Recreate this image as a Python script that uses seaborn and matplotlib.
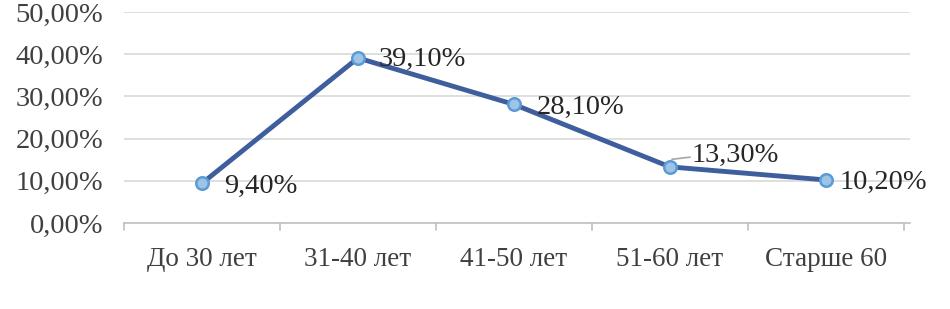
import matplotlib
matplotlib.use("Agg")
import matplotlib.pyplot as plt
import seaborn as sns
import pandas as pd

categories = ["До 30 лет", "31-40 лет", "41-50 лет", "51-60 лет", "Старше 60"]
values = [9.4, 39.1, 28.1, 13.3, 10.2]
value_labels = ["9,40%", "39,10%", "28,10%", "13,30%", "10,20%"]
y_ticks = [0, 10, 20, 30, 40, 50]
y_tick_labels = ["0,00%", "10,00%", "20,00%", "30,00%", "40,00%", "50,00%"]

sns.set_theme(style="white")
plt.rcParams['font.family'] = ['Liberation Serif', 'DejaVu Serif']

df = pd.DataFrame({"cat": categories, "val": values})

fig = plt.figure(figsize=(9.5, 3.09), dpi=100)
ax = fig.add_axes([0.1305, 0.2783, 0.8275, 0.683])

x = list(range(len(categories)))
sns.lineplot(x=x, y=values, ax=ax, color="#3F5E9E", linewidth=3.5,
             marker="o", markersize=9, markerfacecolor="#9DC3E6",
             markeredgecolor="#5B9BD5", markeredgewidth=1.8, zorder=3)

ax.set_xlim(-0.5, len(categories) - 0.46)
ax.set_ylim(0, 50)
ax.set_yticks(y_ticks)
ax.set_yticklabels(y_tick_labels, fontsize=20.5, color="#404040")
ax.set_xticks(x)
ax.set_xticklabels(categories, fontsize=19.5, color="#404040")
ax.tick_params(axis='x', length=0, pad=17)
ax.tick_params(axis='y', length=0, pad=15)

for v in y_ticks[1:]:
    ax.axhline(v, color="#D9D9D9", linewidth=1.2, zorder=1)

for s in ["top", "right", "left"]:
    ax.spines[s].set_visible(False)
ax.spines["bottom"].set_color("#BFBFBF")
ax.spines["bottom"].set_linewidth(1.2)

# category boundary ticks
for b in [i - 0.5 for i in range(len(categories) + 1)]:
    ax.plot([b, b], [0, -1.6], color="#BFBFBF", linewidth=1.2, clip_on=False)

offsets = [(22, -3), (21, -1), (23, -3), (22, 11), (14, -2)]
for i, (lab, off) in enumerate(zip(value_labels, offsets)):
    ax.annotate(lab, (x[i], values[i]), xytext=off, textcoords="offset pixels",
                ha="left", va="center", fontsize=20.5, color="#262626", zorder=4,
                annotation_clip=False)

# leader line for 13,30%
ax.plot([x[3] + 0.013, x[3] + 0.13], [values[3] + 1.8, values[3] + 2.3],
        color="#A6A6A6", linewidth=1.2, zorder=2)

fig.savefig("out.png", dpi=100)
